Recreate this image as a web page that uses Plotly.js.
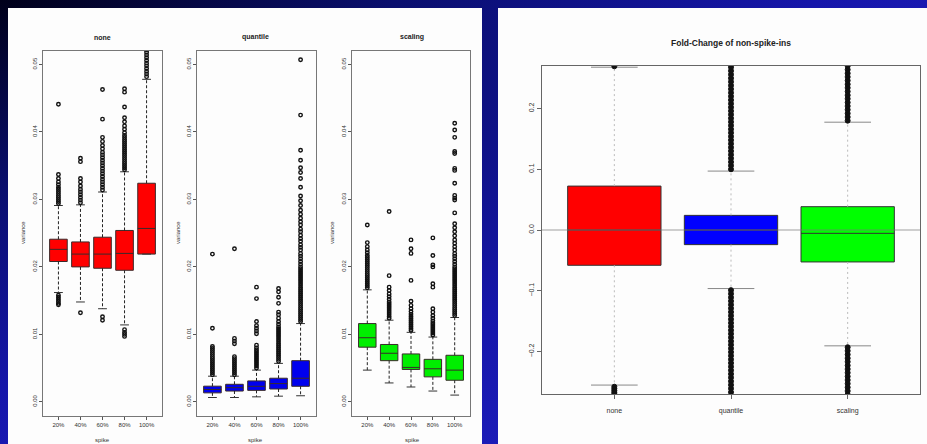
<!DOCTYPE html>
<html>
<head>
<meta charset="utf-8">
<script src="https://cdn.plot.ly/plotly-3.0.1.min.js"></script>
<style>
  html, body { margin: 0; padding: 0; }
  body {
    width: 927px; height: 444px; overflow: hidden;
    background: radial-gradient(ellipse at 0% 0%, #00001a 0%, #0a0f6e 30%, #1616aa 62%, #2222c6 100%);
  }
  #chart { width: 927px; height: 444px; }
</style>
</head>
<body>
<div id="chart"></div>
<script>
// ---------------- data ----------------
const categories = ['20%', '40%', '60%', '80%', '100%'];
const methods = ['none', 'quantile', 'scaling'];
const panelTitles = ['none', 'quantile', 'scaling'];
const yLabel = 'variance';
const xLabel = 'spike';
const rightTitle = 'Fold-Change of non-spike-ins';

// none
const noneQ1  = [0.0208, 0.0200, 0.0198, 0.0195, 0.0219];
const noneMed = [0.0226, 0.0219, 0.0219, 0.0220, 0.0257];
const noneQ3  = [0.0241, 0.0237, 0.0244, 0.0254, 0.0324];
const noneLo  = [0.0162, 0.0148, 0.0138, 0.0114, 0.0219];
const noneHi  = [0.0291, 0.0292, 0.0311, 0.0341, 0.0478];
const noneOut = [
  [0.0294, 0.0297, 0.0300, 0.0303, 0.0306, 0.0309, 0.0312, 0.0315, 0.0318, 0.0322, 0.0326, 0.0331, 0.0337, 0.0441,
   0.0158, 0.0155, 0.0152, 0.0149, 0.0146, 0.0144],
  [0.0295, 0.0299, 0.0303, 0.0307, 0.0311, 0.0315, 0.0320, 0.0326, 0.0331, 0.0356, 0.0361, 0.0132],
  [0.0314, 0.0318, 0.0322, 0.0326, 0.0330, 0.0334, 0.0338, 0.0342, 0.0346, 0.0350, 0.0354, 0.0358, 0.0362,
   0.0366, 0.0370, 0.0375, 0.0380, 0.0386, 0.0392, 0.0419, 0.0463, 0.0126, 0.0121],
  [0.0344, 0.0347, 0.0350, 0.0353, 0.0356, 0.0359, 0.0362, 0.0365, 0.0368, 0.0371, 0.0374, 0.0377, 0.0380,
   0.0383, 0.0386, 0.0389, 0.0392, 0.0395, 0.0399, 0.0404, 0.0409, 0.0415, 0.0421, 0.0437, 0.0459, 0.0464,
   0.0107, 0.0103, 0.0100, 0.0097],
  [0.0482, 0.0486, 0.0490, 0.0494, 0.0498, 0.0502, 0.0506, 0.0510, 0.0514, 0.0518, 0.0522, 0.0530, 0.0545]
];

// quantile
const quanQ1  = [0.00133, 0.0016, 0.0017, 0.0019, 0.0023];
const quanMed = [0.00183, 0.0021, 0.0023, 0.0027, 0.0035];
const quanQ3  = [0.00232, 0.0026, 0.0031, 0.0035, 0.0061];
const quanLo  = [0.00064, 0.00064, 0.00074, 0.00084, 0.0009];
const quanHi  = [0.0038, 0.0038, 0.0047, 0.0057, 0.0116];
const quanOut = [
  [0.0040, 0.0043, 0.0046, 0.0049, 0.0052, 0.0055, 0.0058, 0.0061, 0.0064, 0.0067, 0.0070, 0.0073, 0.0076,
   0.0079, 0.0082, 0.0109, 0.0219],
  [0.0040, 0.0043, 0.0046, 0.0049, 0.0052, 0.0055, 0.0058, 0.0061, 0.0064, 0.0067, 0.0086, 0.0090, 0.0094, 0.0227],
  [0.0050, 0.0053, 0.0056, 0.0059, 0.0062, 0.0065, 0.0068, 0.0071, 0.0074, 0.0077, 0.0080, 0.0084, 0.0101,
   0.0105, 0.0109, 0.0113, 0.0119, 0.0153, 0.0170],
  [0.0060, 0.0063, 0.0066, 0.0069, 0.0072, 0.0075, 0.0078, 0.0081, 0.0084, 0.0087, 0.0090, 0.0093, 0.0096,
   0.0099, 0.0102, 0.0105, 0.0108, 0.0111, 0.0115, 0.0119, 0.0124, 0.0129, 0.0133, 0.0146, 0.0155, 0.0163, 0.0168],
  [0.0119, 0.0122, 0.0125, 0.0128, 0.0131, 0.0134, 0.0137, 0.0140, 0.0143, 0.0146, 0.0149, 0.0152, 0.0155,
   0.0158, 0.0161, 0.0164, 0.0167, 0.0170, 0.0173, 0.0176, 0.0179, 0.0182, 0.0185, 0.0188, 0.0191, 0.0194,
   0.0197, 0.0200, 0.0204, 0.0208, 0.0212, 0.0216, 0.0220, 0.0225, 0.0229, 0.0233, 0.0238, 0.0242, 0.0247,
   0.0252, 0.0256, 0.0262, 0.0267, 0.0272, 0.0278, 0.0284, 0.0291, 0.0298, 0.0305, 0.0318, 0.0331, 0.0340,
   0.0347, 0.0358, 0.0373, 0.0425, 0.0507]
];

// scaling
const scalQ1  = [0.0081, 0.0061, 0.0048, 0.0037, 0.0032];
const scalMed = [0.0095, 0.0072, 0.0051, 0.0049, 0.0047];
const scalQ3  = [0.0116, 0.0085, 0.0071, 0.0063, 0.0069];
const scalLo  = [0.0047, 0.0028, 0.0022, 0.0016, 0.0010];
const scalHi  = [0.0166, 0.0121, 0.0103, 0.0096, 0.0125];
const scalOut = [
  [0.0169, 0.0172, 0.0175, 0.0178, 0.0181, 0.0184, 0.0187, 0.0190, 0.0193, 0.0196, 0.0199, 0.0202, 0.0205,
   0.0208, 0.0211, 0.0214, 0.0217, 0.0221, 0.0225, 0.0230, 0.0236, 0.0262],
  [0.0124, 0.0127, 0.0130, 0.0133, 0.0136, 0.0139, 0.0142, 0.0145, 0.0148, 0.0152, 0.0156, 0.0160, 0.0165,
   0.0170, 0.0187, 0.0282],
  [0.0106, 0.0109, 0.0112, 0.0115, 0.0118, 0.0121, 0.0124, 0.0127, 0.0130, 0.0134, 0.0138, 0.0143, 0.0149,
   0.0180, 0.0220, 0.0227, 0.0240],
  [0.0099, 0.0102, 0.0105, 0.0108, 0.0111, 0.0114, 0.0117, 0.0120, 0.0124, 0.0128, 0.0133, 0.0138, 0.0170,
   0.0175, 0.0200, 0.0203, 0.0217, 0.0243],
  [0.0128, 0.0131, 0.0134, 0.0137, 0.0140, 0.0143, 0.0146, 0.0149, 0.0152, 0.0155, 0.0158, 0.0161, 0.0164,
   0.0167, 0.0170, 0.0173, 0.0176, 0.0179, 0.0182, 0.0185, 0.0188, 0.0191, 0.0194, 0.0197, 0.0200, 0.0204,
   0.0208, 0.0212, 0.0216, 0.0220, 0.0225, 0.0230, 0.0235, 0.0240, 0.0246, 0.0252, 0.0258, 0.0264, 0.0280,
   0.0299, 0.0302, 0.0306, 0.0324, 0.0343, 0.0346, 0.0368, 0.0371, 0.0392, 0.0403, 0.0413]
];

// fold-change (right panel)
const fcQ1  = [-0.0581, -0.0241, -0.0526];
const fcMed = [0.0000, 0.0000, -0.0055];
const fcQ3  = [0.0723, 0.0241, 0.0384];
const fcLo  = [-0.2553, -0.0964, -0.1907];
const fcHi  = [0.2680, 0.0970, 0.1775];
const fcOut = [
  [0.2695, 0.2750, -0.2580, -0.2610, -0.2640, -0.2670, -0.2700, -0.2750, -0.2850],
  [0.100, 0.106, 0.112, 0.118, 0.124, 0.130, 0.136, 0.142, 0.148, 0.154, 0.160, 0.166, 0.172, 0.178, 0.184,
   0.190, 0.196, 0.202, 0.208, 0.214, 0.220, 0.226, 0.232, 0.238, 0.244, 0.250, 0.256, 0.262, 0.268, 0.275,
   -0.099, -0.105, -0.111, -0.117, -0.123, -0.129, -0.135, -0.141, -0.147, -0.153, -0.159, -0.165, -0.171,
   -0.177, -0.183, -0.189, -0.195, -0.201, -0.207, -0.213, -0.219, -0.225, -0.231, -0.237, -0.243, -0.249,
   -0.255, -0.261, -0.267, -0.274],
  [0.180, 0.186, 0.192, 0.198, 0.204, 0.210, 0.216, 0.222, 0.228, 0.234, 0.240, 0.246, 0.252, 0.258, 0.264,
   0.270, 0.276, -0.193, -0.199, -0.205, -0.211, -0.217, -0.223, -0.229, -0.235, -0.241, -0.247, -0.253,
   -0.259, -0.265, -0.271, -0.277]
];
const fcColors = ['#ff0000', '#0000ff', '#00ff00'];

// ---------------- helpers ----------------
const W = 927, H = 444;
const px = x => x / W;
const py = y => 1 - y / H;
const FONT = 'Liberation Sans, Arial, Helvetica, sans-serif';

function panelTraces(n, pos, q1, med, q3, lo, hi, out, color, st) {
  const xa = 'x' + (n === 1 ? '' : n), ya = 'y' + (n === 1 ? '' : n);
  const traces = [];
  traces.push({
    type: 'box', x: pos, q1: q1, median: med, q3: q3, lowerfence: q1, upperfence: q3,
    width: st.boxWidth, fillcolor: color, whiskerwidth: 0, boxpoints: false,
    line: { color: st.boxLine, width: 1 }, xaxis: xa, yaxis: ya, hoverinfo: 'skip', showlegend: false
  });
  const wx = [], wy = [];
  pos.forEach((p, i) => { wx.push(p, p, null, p, p, null); wy.push(q3[i], hi[i], null, q1[i], lo[i], null); });
  traces.push({
    type: 'scatter', mode: 'lines', x: wx, y: wy, xaxis: xa, yaxis: ya, hoverinfo: 'skip', showlegend: false,
    line: { color: st.whiskColor, width: 1, dash: st.whiskDash }
  });
  const cx = [], cy = [];
  pos.forEach((p, i) => { cx.push(p, p); cy.push(hi[i], lo[i]); });
  traces.push({
    type: 'scatter', mode: 'markers', x: cx, y: cy, xaxis: xa, yaxis: ya, hoverinfo: 'skip', showlegend: false,
    marker: { size: 1, color: 'rgba(0,0,0,0)' },
    error_x: { type: 'constant', value: st.capHalf, width: 0, thickness: 1, color: st.capColor }
  });
  const ox = [], oy = [];
  pos.forEach((p, i) => { (out[i] || []).forEach(v => { ox.push(p); oy.push(v); }); });
  traces.push({
    type: 'scatter', mode: 'markers', x: ox, y: oy, xaxis: xa, yaxis: ya, hoverinfo: 'skip', showlegend: false,
    marker: { symbol: st.outSymbol, size: st.outSize, color: '#111', line: { width: st.outLine, color: '#111' } }
  });
  return traces;
}

const leftStyle = { boxWidth: 0.8, boxLine: '#3a2a2a', whiskColor: '#222', whiskDash: '3px,2px',
                    capHalf: 0.2, capColor: '#333', outSymbol: 'circle-open', outSize: 3.5, outLine: 1.4 };
const rightStyle = { boxWidth: 0.8, boxLine: '#333', whiskColor: '#bbbbbb', whiskDash: '2px,3px',
                     capHalf: 0.2, capColor: '#888', outSymbol: 'circle', outSize: 5, outLine: 1 };

const pos5 = categories.map((c, i) => i + 1);
const pos3 = methods.map((m, i) => i + 1);

let data = [];
data = data.concat(panelTraces(1, pos5, noneQ1, noneMed, noneQ3, noneLo, noneHi, noneOut, '#ff0000', leftStyle));
data = data.concat(panelTraces(2, pos5, quanQ1, quanMed, quanQ3, quanLo, quanHi, quanOut, '#0000ee', leftStyle));
data = data.concat(panelTraces(3, pos5, scalQ1, scalMed, scalQ3, scalLo, scalHi, scalOut, '#00ee00', leftStyle));
methods.forEach((m, i) => {
  const t = panelTraces(4, [pos3[i]], [fcQ1[i]], [fcMed[i]], [fcQ3[i]], [fcLo[i]], [fcHi[i]], [fcOut[i]], fcColors[i], rightStyle);
  data = data.concat(t);
});

// ---------------- layout ----------------
const leftY = [py(416), py(51)];
function leftX(i, xd) {
  return {
    domain: xd, anchor: 'y' + (i === 1 ? '' : i), range: [0.3, 5.7],
    tickmode: 'array', tickvals: pos5, ticktext: categories,
    showline: true, mirror: true, linecolor: '#777', linewidth: 1,
    ticks: 'outside', ticklen: 3, tickcolor: '#555', tickwidth: 1,
    tickfont: { family: FONT, size: 6, color: '#333' },
    showgrid: false, zeroline: false, fixedrange: true
  };
}
function leftYax(i) {
  return {
    domain: leftY, anchor: 'x' + (i === 1 ? '' : i), range: [-0.0021, 0.052],
    tickmode: 'array', tickvals: [0, 0.01, 0.02, 0.03, 0.04, 0.05], tickformat: '.2f', tickangle: -90,
    showline: true, mirror: true, linecolor: '#777', linewidth: 1,
    ticks: 'outside', ticklen: 3, tickcolor: '#555', tickwidth: 1,
    tickfont: { family: FONT, size: 6, color: '#333' },
    showgrid: false, zeroline: false, fixedrange: true
  };
}

const layout = {
  width: W, height: H,
  margin: { l: 0, r: 0, t: 0, b: 0 },
  paper_bgcolor: 'rgba(0,0,0,0)', plot_bgcolor: 'white',
  showlegend: false, boxmode: 'overlay',
  font: { family: FONT, color: '#222' },
  xaxis: leftX(1, [px(43), px(162)]), yaxis: leftYax(1),
  xaxis2: leftX(2, [px(197), px(316)]), yaxis2: leftYax(2),
  xaxis3: leftX(3, [px(352), px(470)]), yaxis3: leftYax(3),
  xaxis4: {
    domain: [px(542), px(920)], anchor: 'y4', range: [0.38, 3.62],
    tickmode: 'array', tickvals: pos3, ticktext: methods,
    showline: true, mirror: true, linecolor: '#666', linewidth: 1,
    ticks: 'outside', ticklen: 4, tickcolor: '#666', ticklabelstandoff: 6,
    tickfont: { family: FONT, size: 7, color: '#333' },
    showgrid: false, zeroline: false, fixedrange: true
  },
  yaxis4: {
    domain: [py(394), py(66)], anchor: 'x4', range: [-0.27, 0.27],
    tickmode: 'array', tickvals: [-0.2, -0.1, 0, 0.1, 0.2], tickformat: '.1f', tickangle: -90,
    showline: true, mirror: true, linecolor: '#666', linewidth: 1,
    ticks: 'outside', ticklen: 4, tickcolor: '#666',
    tickfont: { family: FONT, size: 7, color: '#333' },
    showgrid: false, zeroline: false, fixedrange: true
  },
  shapes: [
    { type: 'rect', xref: 'paper', yref: 'paper', x0: px(8), x1: px(482), y0: 0, y1: py(8),
      fillcolor: '#fdfdfd', line: { width: 0 }, layer: 'below' },
    { type: 'rect', xref: 'paper', yref: 'paper', x0: px(498), x1: 1, y0: 0, y1: py(8),
      fillcolor: '#fdfdfd', line: { width: 0 }, layer: 'below' },
    { type: 'line', xref: 'x4 domain', yref: 'y4', x0: 0, x1: 1, y0: 0, y1: 0,
      line: { color: 'rgba(120,120,120,0.7)', width: 1.2 }, layer: 'above' }
  ],
  annotations: []
};

const titleX = [102, 256, 412];
const yTitleX = [23, 178, 332];
panelTitles.forEach((t, i) => {
  layout.annotations.push({ text: '<b>' + t + '</b>', xref: 'paper', yref: 'paper', x: px(titleX[i]), y: py(37),
    showarrow: false, xanchor: 'center', yanchor: 'middle', font: { family: FONT, size: 7, color: '#222' } });
  layout.annotations.push({ text: yLabel, xref: 'paper', yref: 'paper', x: px(yTitleX[i]), y: py(233),
    textangle: -90, showarrow: false, xanchor: 'center', yanchor: 'middle', font: { family: FONT, size: 6, color: '#333' } });
  layout.annotations.push({ text: xLabel, xref: 'paper', yref: 'paper', x: px(titleX[i]), y: py(440),
    showarrow: false, xanchor: 'center', yanchor: 'middle', font: { family: FONT, size: 6, color: '#333' } });
});
layout.annotations.push({ text: '<b>' + rightTitle + '</b>', xref: 'paper', yref: 'paper', x: px(731), y: py(43),
  showarrow: false, xanchor: 'center', yanchor: 'middle', font: { family: FONT, size: 8.5, color: '#222' } });

Plotly.newPlot('chart', data, layout, { staticPlot: true, displayModeBar: false });
</script>
</body>
</html>
